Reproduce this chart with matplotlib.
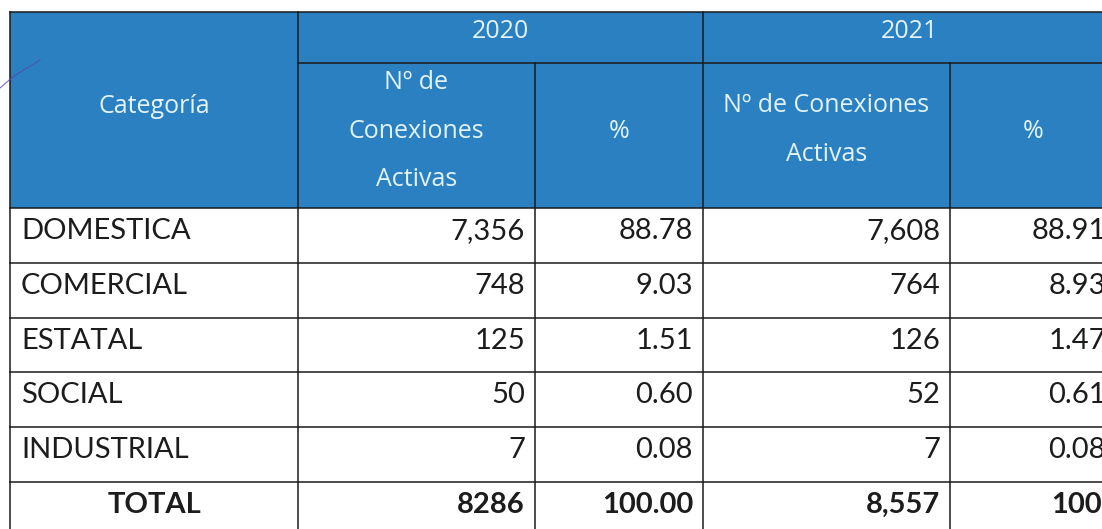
import matplotlib.pyplot as plt
from matplotlib.patches import Rectangle

# table data
categorias = ['DOMESTICA', 'COMERCIAL', 'ESTATAL', 'SOCIAL', 'INDUSTRIAL']
conex_2020 = [7356, 748, 125, 50, 7]
pct_2020 = [88.78, 9.03, 1.51, 0.60, 0.08]
conex_2021 = [7608, 764, 126, 52, 7]
pct_2021 = [88.91, 8.93, 1.47, 0.61, 0.08]
total_2020 = 8286
total_2021 = 8557
pct_total = 100.00

years = ['2020', '2021']

# layout (pixels)
W, H = 1102, 529
col_x = [10, 298, 535, 703, 950, 1116]
top, mid, head_bot = 12, 63, 208
row_h = 54.8
n_rows = len(categorias) + 1
row_y = [head_bot + i * row_h for i in range(n_rows + 1)]

HEAD_BG = '#2b80c2'
HEAD_FG = '#e2f3fb'
BODY_FG = '#1c1c1c'
LINE = '#1a1a1a'
LW = 1.1
HEAD_FONT = ['Open Sans', 'DejaVu Sans']

plt.rcParams['font.family'] = ['Lato', 'DejaVu Sans']

fig = plt.figure(figsize=(W / 100, H / 100), dpi=100)
ax = fig.add_axes([0, 0, 1, 1])
ax.set_xlim(0, W)
ax.set_ylim(H, 0)
ax.axis('off')

# header background
ax.add_patch(Rectangle((col_x[0], top), col_x[-1] - col_x[0], head_bot - top,
                       facecolor=HEAD_BG, edgecolor='none'))

# grid lines
ax.plot([col_x[0], col_x[-1]], [top, top], color=LINE, lw=LW)
ax.plot([col_x[1], col_x[-1]], [mid, mid], color=LINE, lw=LW)
for y in row_y[:-1]:
    ax.plot([col_x[0], col_x[-1]], [y, y], color=LINE, lw=LW)
for x in [col_x[0], col_x[1], col_x[3]]:
    ax.plot([x, x], [top, H + 10], color=LINE, lw=LW)
for x in [col_x[2], col_x[4]]:
    ax.plot([x, x], [mid, H + 10], color=LINE, lw=LW)


def head(x, y, s):
    ax.text(x, y, s, ha='center', va='baseline', color=HEAD_FG,
            fontsize=18, family=HEAD_FONT)


# header text
head((col_x[0] + col_x[1]) / 2, 113, 'Categoría')
for i, yr in enumerate(years):
    head((col_x[1 + 2 * i] + col_x[3 + 2 * i]) / 2, 38, yr)

cx = (col_x[1] + col_x[2]) / 2
for line, yb in zip(['Nº de', 'Conexiones', 'Activas'], [89, 138, 186]):
    head(cx, yb, line)
cx = (col_x[3] + col_x[4]) / 2
for line, yb in zip(['Nº de Conexiones', 'Activas'], [112, 161]):
    head(cx, yb, line)
for c in [2, 4]:
    head((col_x[c] + col_x[c + 1]) / 2, 138, '%')

# body rows
bfs = 21
pad = 10
for i, cat in enumerate(categorias):
    yb = row_y[i] + 31
    ax.text(col_x[0] + 11, yb, cat, ha='left', va='baseline', color=BODY_FG, fontsize=bfs)
    vals = [f'{conex_2020[i]:,}', f'{pct_2020[i]:.2f}',
            f'{conex_2021[i]:,}', f'{pct_2021[i]:.2f}']
    for j, v in enumerate(vals):
        ax.text(col_x[j + 2] - pad, yb, v, ha='right', va='baseline',
                color=BODY_FG, fontsize=bfs)

# total row (last cell sits further right in the source, cut by the page edge)
yb = row_y[len(categorias)] + 31
ax.text((col_x[0] + col_x[1]) / 2, yb, 'TOTAL', ha='center', va='baseline',
        color=BODY_FG, fontsize=bfs, fontweight='bold')
tot_vals = [f'{total_2020}', f'{pct_total:.2f}', f'{total_2021:,}', f'{pct_total:.2f}']
tot_shift = [0, 0, 0, 36]
for j, v in enumerate(tot_vals):
    ax.text(col_x[j + 2] - pad + tot_shift[j], yb, v, ha='right', va='baseline',
            color=BODY_FG, fontsize=bfs, fontweight='bold')

# stray pen stroke from the scan
ax.plot([0, 14, 40], [88, 76, 60], color='#5548b0', lw=0.8, alpha=0.8)

fig.savefig('out.png', dpi=100)
